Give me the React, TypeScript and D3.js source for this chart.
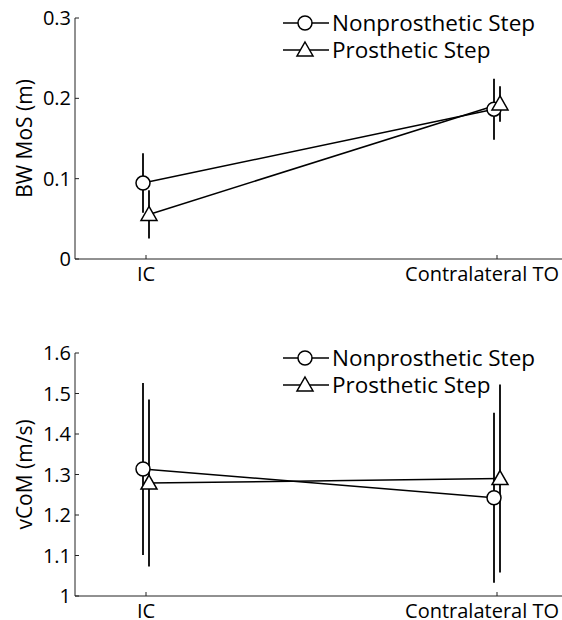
import React, { useEffect, useRef } from 'react';
import * as d3 from 'd3';

const categories = ['IC', 'Contralateral TO'];
const seriesNames = ['Nonprosthetic Step', 'Prosthetic Step'];

// BW MoS (m)
const mosNonMean = [0.0945, 0.1865];
const mosNonSd = [0.037, 0.038];
const mosProMean = [0.0555, 0.193];
const mosProSd = [0.03, 0.022];
const mosTicks = [0, 0.1, 0.2, 0.3];

// vCoM (m/s)
const vcomNonMean = [1.3136, 1.2426];
const vcomNonSd = [0.2125, 0.21];
const vcomProMean = [1.279, 1.29];
const vcomProSd = [0.206, 0.232];
const vcomTicks = [1, 1.1, 1.2, 1.3, 1.4, 1.5, 1.6];

const FONT = '"Open Sans", sans-serif';

type Panel = {
  top: number;
  bottom: number;
  domain: [number, number];
  ticks: number[];
  label: string;
  legendY: number;
  series: { mean: number[]; sd: number[]; marker: 'circle' | 'triangle' }[];
};

const panels: Panel[] = [
  {
    top: 18,
    bottom: 259,
    domain: [0, 0.3],
    ticks: mosTicks,
    label: 'BW MoS (m)',
    legendY: 23,
    series: [
      { mean: mosNonMean, sd: mosNonSd, marker: 'circle' },
      { mean: mosProMean, sd: mosProSd, marker: 'triangle' },
    ],
  },
  {
    top: 353,
    bottom: 596,
    domain: [1, 1.6],
    ticks: vcomTicks,
    label: 'vCoM (m/s)',
    legendY: 358,
    series: [
      { mean: vcomNonMean, sd: vcomNonSd, marker: 'circle' },
      { mean: vcomProMean, sd: vcomProSd, marker: 'triangle' },
    ],
  },
];

const App = () => {
  const svgRef = useRef<SVGSVGElement>(null);

  useEffect(() => {
    const svg = d3.select(svgRef.current);
    svg.selectAll('*').remove();

    const axisLeftX = 75;
    const x = d3.scalePoint<string>().domain(categories).range([146, 497]);
    const dodge = [-3, 3];
    const fmt = d3.format('~g');

    const drawMarker = (g: any, kind: string, cx: number, cy: number) => {
      if (kind === 'circle') {
        g.append('circle')
          .attr('cx', cx)
          .attr('cy', cy)
          .attr('r', 7)
          .attr('fill', 'white')
          .attr('stroke', 'black')
          .attr('stroke-width', 1.5);
      } else {
        const s = 8;
        g.append('path')
          .attr('d', `M${cx},${cy - s}L${cx + s},${cy + s * 0.75}L${cx - s},${cy + s * 0.75}Z`)
          .attr('fill', 'white')
          .attr('stroke', 'black')
          .attr('stroke-width', 1.5);
      }
    };

    panels.forEach((p) => {
      const y = d3.scaleLinear().domain(p.domain).range([p.bottom, p.top]);
      const g = svg.append('g');

      // axes
      g.append('line')
        .attr('x1', axisLeftX).attr('x2', axisLeftX)
        .attr('y1', y(p.domain[1])).attr('y2', y(p.domain[0]))
        .attr('stroke', '#222').attr('stroke-width', 1);
      g.append('line')
        .attr('x1', axisLeftX).attr('x2', 562)
        .attr('y1', y(p.domain[0])).attr('y2', y(p.domain[0]))
        .attr('stroke', '#222').attr('stroke-width', 1);

      p.ticks.forEach((t) => {
        g.append('line')
          .attr('x1', axisLeftX).attr('x2', axisLeftX + 4)
          .attr('y1', y(t)).attr('y2', y(t))
          .attr('stroke', '#222');
        g.append('text')
          .attr('x', axisLeftX - 4)
          .attr('y', y(t))
          .attr('dy', '0.35em')
          .attr('text-anchor', 'end')
          .attr('font-family', FONT)
          .attr('font-size', 20)
          .text(fmt(t));
      });

      categories.forEach((c, i) => {
        g.append('line')
          .attr('x1', x(c)!).attr('x2', x(c)!)
          .attr('y1', y(p.domain[0])).attr('y2', y(p.domain[0]) - 4)
          .attr('stroke', '#222');
        g.append('text')
          .attr('x', i === 0 ? x(c)! : 559)
          .attr('y', y(p.domain[0]) + 21.5)
          .attr('text-anchor', i === 0 ? 'middle' : 'end')
          .attr('font-family', FONT)
          .attr('font-size', 20)
          .text(c);
      });

      g.append('text')
        .attr('transform', `translate(25,${(p.top + p.bottom) / 2}) rotate(-90)`)
        .attr('dy', '0.35em')
        .attr('text-anchor', 'middle')
        .attr('font-family', FONT)
        .attr('font-size', 21)
        .text(p.label);

      // series
      p.series.forEach((s, si) => {
        const px = (i: number) => x(categories[i])! + dodge[si];
        const line = d3.line<number>()
          .x((_, i) => px(i))
          .y((d) => y(d));
        g.append('path')
          .datum(s.mean)
          .attr('fill', 'none')
          .attr('stroke', 'black')
          .attr('stroke-width', 1.5)
          .attr('d', line);
        s.mean.forEach((m, i) => {
          g.append('line')
            .attr('x1', px(i)).attr('x2', px(i))
            .attr('y1', y(m - s.sd[i])).attr('y2', y(m + s.sd[i]))
            .attr('stroke', 'black').attr('stroke-width', 1.8);
        });
      });
      p.series.forEach((s, si) => {
        s.mean.forEach((m, i) => {
          drawMarker(g, s.marker, x(categories[i])! + dodge[si], y(m));
        });
      });

      // legend
      seriesNames.forEach((name, li) => {
        const ly = p.legendY + li * 27;
        g.append('line')
          .attr('x1', 283).attr('x2', 329)
          .attr('y1', ly).attr('y2', ly)
          .attr('stroke', 'black').attr('stroke-width', 1.5);
        drawMarker(g, p.series[li].marker, 305, ly);
        g.append('text')
          .attr('x', 332)
          .attr('y', ly)
          .attr('dy', '0.35em')
          .attr('font-family', FONT)
          .attr('font-size', 22.5)
          .text(name);
      });
    });
  }, []);

  return (
    <div style={{ position: 'absolute', left: 0, top: 0 }}>
      <svg ref={svgRef} width={562} height={620} style={{ display: 'block', background: 'white' }}></svg>
    </div>
  );
};

export default App;
